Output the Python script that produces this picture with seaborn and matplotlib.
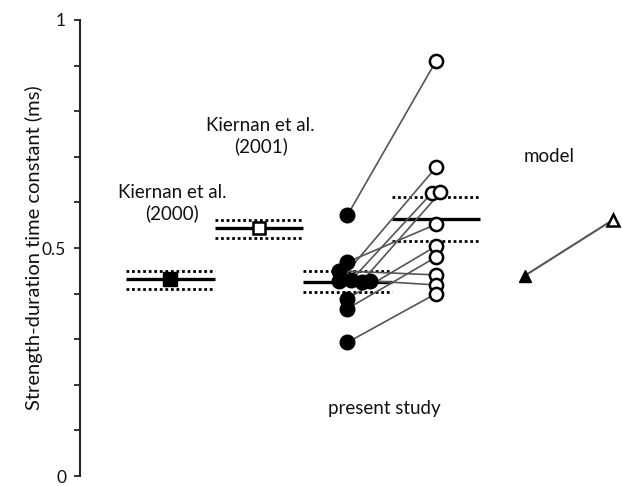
import numpy as np
import pandas as pd
import matplotlib
matplotlib.use("Agg")
import matplotlib.pyplot as plt
from matplotlib.ticker import MultipleLocator
import seaborn as sns

# group means with +/- bands (ms)
k2000_mean, k2000_lo, k2000_hi = 0.431, 0.410, 0.450
k2001_mean, k2001_lo, k2001_hi = 0.544, 0.522, 0.561
pre_mean, pre_lo, pre_hi = 0.426, 0.404, 0.450
post_mean, post_lo, post_hi = 0.563, 0.515, 0.611

# present study, paired subjects (filled = before, open = after)
pre_vals = [0.572, 0.469, 0.450, 0.428, 0.430, 0.426, 0.428, 0.389, 0.367, 0.293]
post_vals = [0.910, 0.552, 0.441, 0.677, 0.620, 0.622, 0.419, 0.504, 0.480, 0.400]
pre_jitter = [0, 0, -0.1, -0.09, 0.045, 0.16, 0.25, 0, 0, 0]
post_jitter = [0, 0, 0, 0, -0.05, 0.05, 0, 0, 0, 0]

# model prediction
model_vals = [0.439, 0.562]

sns.set_style("ticks")
plt.rcParams["font.family"] = ["Lato", "DejaVu Sans"]

fig = plt.figure(figsize=(6.22, 4.86), dpi=100)
ax = fig.add_axes([80 / 622, 10 / 486, 542 / 622, 456 / 486])

# mean lines and dotted bands
groups = [(1, k2000_mean, k2000_lo, k2000_hi), (2, k2001_mean, k2001_lo, k2001_hi),
          (3, pre_mean, pre_lo, pre_hi), (4, post_mean, post_lo, post_hi)]
for x, m, lo, hi in groups:
    ax.hlines(m, x - 0.5, x + 0.5, color="black", lw=2.4, zorder=2)
    ax.hlines([lo, hi], x - 0.5, x + 0.5, color="black", lw=2, linestyles=(0, (1, 1)), zorder=2)

# paired lines
for a, b, ja, jb in zip(pre_vals, post_vals, pre_jitter, post_jitter):
    ax.plot([3 + ja, 4 + jb], [a, b], color="#555555", lw=1.2, zorder=3)
ax.plot([5, 6], model_vals, color="#555555", lw=1.5, zorder=3)

pts = pd.DataFrame({
    "x": [3 + j for j in pre_jitter] + [4 + j for j in post_jitter],
    "y": pre_vals + post_vals,
    "kind": ["pre"] * len(pre_vals) + ["post"] * len(post_vals),
})
sns.scatterplot(data=pts[pts.kind == "pre"], x="x", y="y", color="black", s=100,
                edgecolor="black", linewidth=1.5, ax=ax, zorder=4)
sns.scatterplot(data=pts[pts.kind == "post"], x="x", y="y", color="white", s=90,
                edgecolor="black", linewidth=1.8, ax=ax, zorder=4)

ax.plot(1, k2000_mean, marker="s", ms=10, color="black", mec="black", zorder=5)
ax.plot(2, k2001_mean, marker="s", ms=9, color="white", mec="black", mew=1.8, zorder=5)
ax.plot(5, model_vals[0], marker="^", ms=9, color="black", mec="black", zorder=5, clip_on=False)
ax.plot(6, model_vals[1], marker="^", ms=8, color="white", mec="black", mew=1.8, zorder=5, clip_on=False)

txt = dict(ha="center", va="center", fontsize=13.5, color="#111111", linespacing=1.25)
ax.text(1.02, 0.598, "Kiernan et al.\n(2000)", **txt)
ax.text(2.02, 0.745, "Kiernan et al.\n(2001)", **txt)
ax.text(3.42, 0.148, "present study", **txt)
ax.text(5.28, 0.70, "model", **txt)

ax.set_xlim(-0.02, 6.1)
ax.set_ylim(0, 1)
ax.yaxis.set_minor_locator(MultipleLocator(0.1))
ax.set_yticks([0, 0.5, 1])
ax.set_yticklabels(["0", "0.5", "1"], fontsize=12.5, color="#111111")
ax.tick_params(axis="y", which="both", length=4, width=1.3, direction="out", pad=6)
ax.set_xticks([])
ax.set_xlabel("")
ax.set_ylabel("Strength-duration time constant (ms)", fontsize=14.5, color="#111111")
ax.yaxis.set_label_coords(-0.068, 0.5)
for s in ["top", "right", "bottom"]:
    ax.spines[s].set_visible(False)
ax.spines["left"].set_linewidth(1.5)
ax.set_facecolor("white")

fig.savefig("out.png", dpi=100, facecolor="white")
